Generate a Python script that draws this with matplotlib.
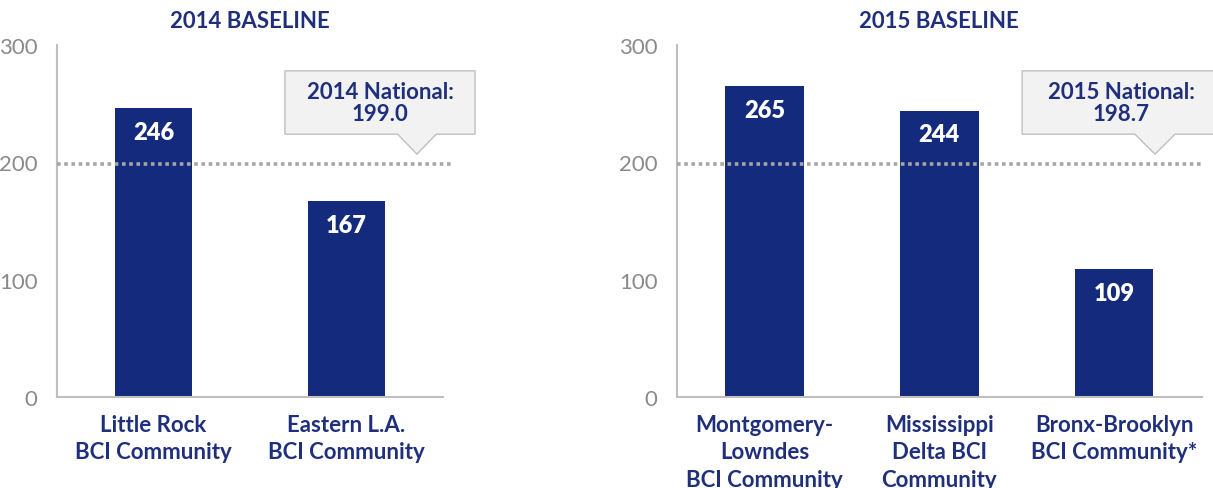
import matplotlib
matplotlib.use("Agg")
import matplotlib.pyplot as plt
from matplotlib.patches import Polygon

# data
labels_2014 = ["Little Rock\nBCI Community", "Eastern L.A.\nBCI Community"]
values_2014 = [246, 167]
national_2014 = 199.0

labels_2015 = ["Montgomery-\nLowndes\nBCI Community", "Mississippi\nDelta BCI\nCommunity",
               "Bronx-Brooklyn\nBCI Community*"]
values_2015 = [265, 244, 109]
national_2015 = 198.7

yticks = [0, 100, 200, 300]

NAVY = "#132a7d"
TXT = "#1f2f7c"
GRAY_TICK = "#8a8a8a"
AXLINE = "#bfbfbf"

plt.rcParams['font.family'] = ['Lato', 'DejaVu Sans']

fig = plt.figure(figsize=(12.13, 4.89), dpi=100)
ax1 = fig.add_axes([57/1213, 91/489, 386/1213, 352/489])
ax2 = fig.add_axes([677/1213, 91/489, 524.5/1213, 352/489])


def callout(ax, x0, x1, ytop, ybot, tip_x, tip_y, half, text):
    # box with a little pointer underneath
    pts = [(x0, ytop), (x1, ytop), (x1, ybot), (tip_x + half, ybot), (tip_x, tip_y),
           (tip_x - half, ybot), (x0, ybot)]
    poly = Polygon(pts, closed=True, facecolor="#f2f2f2", edgecolor="#bfbfbf",
                   linewidth=1.0, clip_on=False, zorder=4)
    ax.add_patch(poly)
    ax.text((x0 + x1) / 2, (ytop + ybot) / 2, text, ha="center", va="center",
            fontsize=16, fontweight="bold", color=TXT, linespacing=1.05, zorder=5,
            clip_on=False)


def draw_panel(ax, labels, values, national, bw, line_end, title):
    x = list(range(len(values)))
    ax.bar(x, values, width=bw, color=NAVY, zorder=2)
    for xi, v in zip(x, values):
        ax.annotate(str(v), (xi, v), xytext=(0, -17), textcoords="offset points",
                    ha="center", va="center", color="white", fontsize=17,
                    fontweight="heavy", zorder=3)
    ax.plot([-0.5, line_end], [national, national], color="#a6a6a6", lw=2.6,
            linestyle=(0, (1, 1)), zorder=3, clip_on=False)
    ax.set_xlim(-0.5, len(values) - 0.5)
    ax.set_ylim(0, 300)
    ax.set_yticks(yticks)
    ax.set_yticklabels([str(t) for t in yticks], fontsize=16, color=GRAY_TICK,
                       fontweight="normal")
    ax.set_xticks(x)
    ax.set_xticklabels(labels, fontsize=16, fontweight="bold", color=TXT,
                       linespacing=1.4, va="top")
    ax.tick_params(axis="both", length=0)
    ax.tick_params(axis="y", pad=14)
    ax.tick_params(axis="x", pad=12)
    for s in ["top", "right"]:
        ax.spines[s].set_visible(False)
    for s in ["left", "bottom"]:
        ax.spines[s].set_color(AXLINE)
        ax.spines[s].set_linewidth(1.5)
    ax.set_title(title, fontsize=16, fontweight="bold", color=TXT, pad=13)


draw_panel(ax1, labels_2014, values_2014, national_2014, 0.4, 1.55, "2014 BASELINE")
draw_panel(ax2, labels_2015, values_2015, national_2015, 0.45, 2.5, "2015 BASELINE")

callout(ax1, 0.681, 1.666, 278, 224, 1.365, 207, 0.1, "2014 National:\n%.1f" % national_2014)
callout(ax2, 1.474, 2.61, 278, 224, 2.234, 207, 0.115, "2015 National:\n%.1f" % national_2015)

fig.savefig("out.png", dpi=100)
